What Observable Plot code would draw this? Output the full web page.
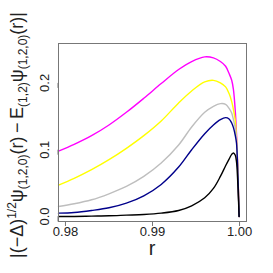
<!DOCTYPE html>
<html>
<head>
<meta charset="utf-8">
<script src="https://cdn.jsdelivr.net/npm/d3@7"></script>
<script src="https://cdn.jsdelivr.net/npm/@observablehq/plot@0.6"></script>
<style>
  html, body { margin: 0; padding: 0; background: #fff; }
  #chart svg { font-family: "Liberation Sans", Arial, sans-serif; display: block; }
</style>
</head>
<body>
<div id="chart"></div>
<script>
// r grid
const rValues = [0.9792, 0.9810, 0.9830, 0.9850, 0.9870, 0.9890, 0.9910, 0.9930, 0.9945, 0.9960,
                 0.9970, 0.9978, 0.9984, 0.9988, 0.9991, 0.9993, 0.99950, 0.99965, 0.99980, 0.99995];
const magentaSeries = [0.098, 0.108, 0.121, 0.137, 0.156, 0.177, 0.199, 0.220, 0.232, 0.239,
                       0.2375, 0.232, 0.225, 0.214, 0.204, 0.190, 0.160, 0.125, 0.072, 0.0];
const yellowSeries  = [0.047, 0.057, 0.070, 0.085, 0.102, 0.121, 0.143, 0.170, 0.188, 0.2015,
                       0.2038, 0.200, 0.194, 0.184, 0.172, 0.160, 0.145, 0.118, 0.070, 0.0];
const graySeries    = [0.015, 0.019, 0.025, 0.034, 0.045, 0.060, 0.080, 0.107, 0.134, 0.156,
                       0.165, 0.169, 0.168, 0.162, 0.155, 0.145, 0.133, 0.115, 0.068, 0.0];
const blueSeries    = [0.005, 0.006, 0.009, 0.013, 0.020, 0.031, 0.048, 0.074, 0.100, 0.124,
                       0.137, 0.145, 0.148, 0.146, 0.140, 0.133, 0.122, 0.110, 0.066, 0.0];
const blackSeries   = [0.0, 0.0, 0.0005, 0.001, 0.002, 0.003, 0.005, 0.009, 0.016, 0.028,
                       0.042, 0.060, 0.076, 0.086, 0.093, 0.095, 0.092, 0.082, 0.050, 0.0];
const seriesNames  = ["magenta", "yellow", "gray", "blue", "black"];
const seriesColors = ["#FF00FF", "#FFFF00", "#BEBEBE", "#00008B", "#000000"];
const seriesValues = [magentaSeries, yellowSeries, graySeries, blueSeries, blackSeries];

const xTicks = [0.98, 0.99, 1.00];
const xTickLabels = ["0.98", "0.99", "1.00"];
const yTicks = [0.0, 0.1, 0.2];
const yTickLabels = ["0.0", "0.1", "0.2"];
const xTitle = "r";

const rows = [];
seriesValues.forEach((vals, k) => {
  vals.forEach((v, i) => rows.push({r: rValues[i], v, s: seriesNames[k], col: seriesColors[k]}));
});

const chart = Plot.plot({
  width: 273,
  height: 273,
  marginLeft: 58,
  marginRight: 27,
  marginTop: 43,
  marginBottom: 52,
  style: {fontSize: "13px", fontFamily: "Liberation Sans, Arial, sans-serif", color: "#222"},
  x: {domain: [0.9792, 1.0008]},
  y: {domain: [-0.0075, 0.259]},
  marks: [
    Plot.line(rows, {x: "r", y: "v", z: "s", stroke: "col", strokeWidth: 1.4, curve: "catmull-rom"}),
    Plot.frame({stroke: "#777", strokeWidth: 1}),
    Plot.axisX({ticks: xTicks, tickFormat: d => xTickLabels[xTicks.indexOf(d)], tickSize: 5, tickPadding: 0,
                stroke: "#777", fill: "#222", label: null, fontSize: 13}),
    Plot.axisY({ticks: yTicks, tickFormat: d => yTickLabels[yTicks.findIndex(t => Math.abs(t - d) < 1e-9)],
                tickSize: 5, tickPadding: 9, rotate: -90, textAnchor: "middle",
                stroke: "#777", fill: "#222", label: null, fontSize: 13})
  ]
});
document.getElementById("chart").appendChild(chart);

const svg = d3.select(chart);
svg.append("text")
  .attr("x", 152).attr("y", 255)
  .attr("text-anchor", "middle")
  .attr("font-size", 20)
  .attr("fill", "#222")
  .text(xTitle);

const yl = svg.append("text")
  .attr("transform", "translate(23,135) rotate(-90)")
  .attr("text-anchor", "middle")
  .attr("font-size", 18)
  .attr("fill", "#222");
const parts = [
  ["|(\u2212\u0394)", 0, 18],
  ["1/2", -7, 12],
  ["\u03C8", 0, 18],
  ["(1,2,0)", 4, 12],
  ["(r)\u2009\u2212\u2009E", 0, 18],
  ["(1,2)", 4, 12],
  ["\u03C8", 0, 18],
  ["(1,2,0)", 4, 12],
  ["(r)|", 0, 18]
];
let prevShift = 0;
parts.forEach(([t, shift, fs]) => {
  yl.append("tspan").attr("dy", shift - prevShift).attr("font-size", fs).text(t);
  prevShift = shift;
});
</script>
</body>
</html>
